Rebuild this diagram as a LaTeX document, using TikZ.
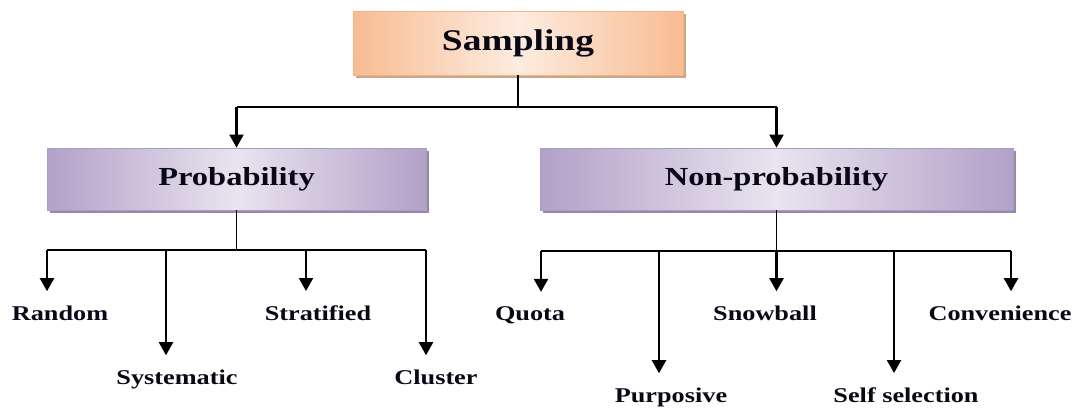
\documentclass[tikz,border=0pt]{standalone}
\usepackage{fontspec}
\newfontfamily\labfont[FakeStretch=1.25]{Liberation Serif}
\usetikzlibrary{arrows.meta,shadows}
\definecolor{ink}{RGB}{8,8,22}
\definecolor{orEdge}{RGB}{248,188,146}
\definecolor{orMid}{RGB}{253,236,224}
\definecolor{orLine}{RGB}{244,178,134}
\definecolor{orShadow}{RGB}{205,165,135}
\definecolor{puEdge}{RGB}{178,161,200}
\definecolor{puMid}{RGB}{233,228,239}
\definecolor{puLine}{RGB}{172,155,196}
\definecolor{puShadow}{RGB}{150,137,170}
\tikzset{
  rootbox/.style={draw=orLine, line width=0.8pt, left color=orEdge, right color=orEdge, middle color=orMid,
    minimum width=330pt, minimum height=64pt, inner sep=0pt, text=ink,
    font=\labfont\bfseries\fontsize{30}{34}\selectfont,
    drop shadow={shadow xshift=3pt, shadow yshift=-3pt, fill=orShadow, opacity=1}},
  catbox/.style={draw=puLine, line width=0.8pt, left color=puEdge, right color=puEdge, middle color=puMid,
    minimum height=62pt, inner sep=0pt, text=ink,
    font=\labfont\bfseries\fontsize{26}{30}\selectfont,
    drop shadow={shadow xshift=3pt, shadow yshift=-3pt, fill=puShadow, opacity=1}},
  leaf/.style={inner sep=0pt, anchor=base, text=ink, font=\labfont\bfseries\fontsize{21}{25}\selectfont},
  conn/.style={draw=black, line width=1.3pt},
  arr/.style={draw=black, line width=2.2pt, -{Triangle[width=14pt,length=13pt]}},
  leafarr/.style={arr, shorten >=14pt}
}
\begin{document}
\begin{tikzpicture}[x=1pt,y=-1pt]
\useasboundingbox (0,0) rectangle (1075,407);

% boxes
\node[rootbox] (samp) at (518,43) {Sampling};
\node[catbox, minimum width=379pt] (prob) at (236.5,179) {Probability};
\node[catbox, minimum width=473pt] (nonp) at (776.5,179) {Non-probability};

% top bus
\coordinate (tmid) at (518,107);
\coordinate (tl) at (236.5,107);
\coordinate (tr) at (776.5,107);
\draw[conn] (samp.south) -- (tmid);
\draw[conn] (tl) -- (tr);
\draw[arr] (tl) -- (prob.north);
\draw[arr] (tr) -- (nonp.north);

% leaves
\node[leaf] (random) at (60,320) {Random};
\node[leaf] (syst) at (177,384) {Systematic};
\node[leaf] (strat) at (318,320) {Stratified};
\node[leaf] (clus) at (436,384) {Cluster};
\node[leaf] (quota) at (530,320) {Quota};
\node[leaf] (purp) at (671,402) {Purposive};
\node[leaf] (snow) at (765,320) {Snowball};
\node[leaf] (self) at (906,402) {Self selection};
\node[leaf] (conv) at (1000,320) {Convenience};

% left bus
\coordinate (pmid) at (236.5,250);
\coordinate (p1) at (47,250);
\coordinate (p2) at (166,250);
\coordinate (p3) at (306,250);
\coordinate (p4) at (426,250);
\draw[conn] (prob.south) -- (pmid);
\draw[conn] (p1) -- (p4);
\draw[leafarr] (p1) -- (p1 |- random.north);
\draw[leafarr] (p2) -- (p2 |- syst.north);
\draw[leafarr] (p3) -- (p3 |- strat.north);
\draw[leafarr] (p4) -- (p4 |- clus.north);

% right bus
\coordinate (nmid) at (776.5,251);
\coordinate (n1) at (541,251);
\coordinate (n2) at (659,251);
\coordinate (n3) at (776.5,251);
\coordinate (n4) at (894,251);
\coordinate (n5) at (1011,251);
\draw[conn] (nonp.south) -- (nmid);
\draw[conn] (n1) -- (n5);
\draw[leafarr] (n1) -- (n1 |- quota.north);
\draw[leafarr] (n2) -- (n2 |- purp.north);
\draw[leafarr] (n3) -- (n3 |- snow.north);
\draw[leafarr] (n4) -- (n4 |- self.north);
\draw[leafarr] (n5) -- (n5 |- conv.north);
\end{tikzpicture}
\end{document}
